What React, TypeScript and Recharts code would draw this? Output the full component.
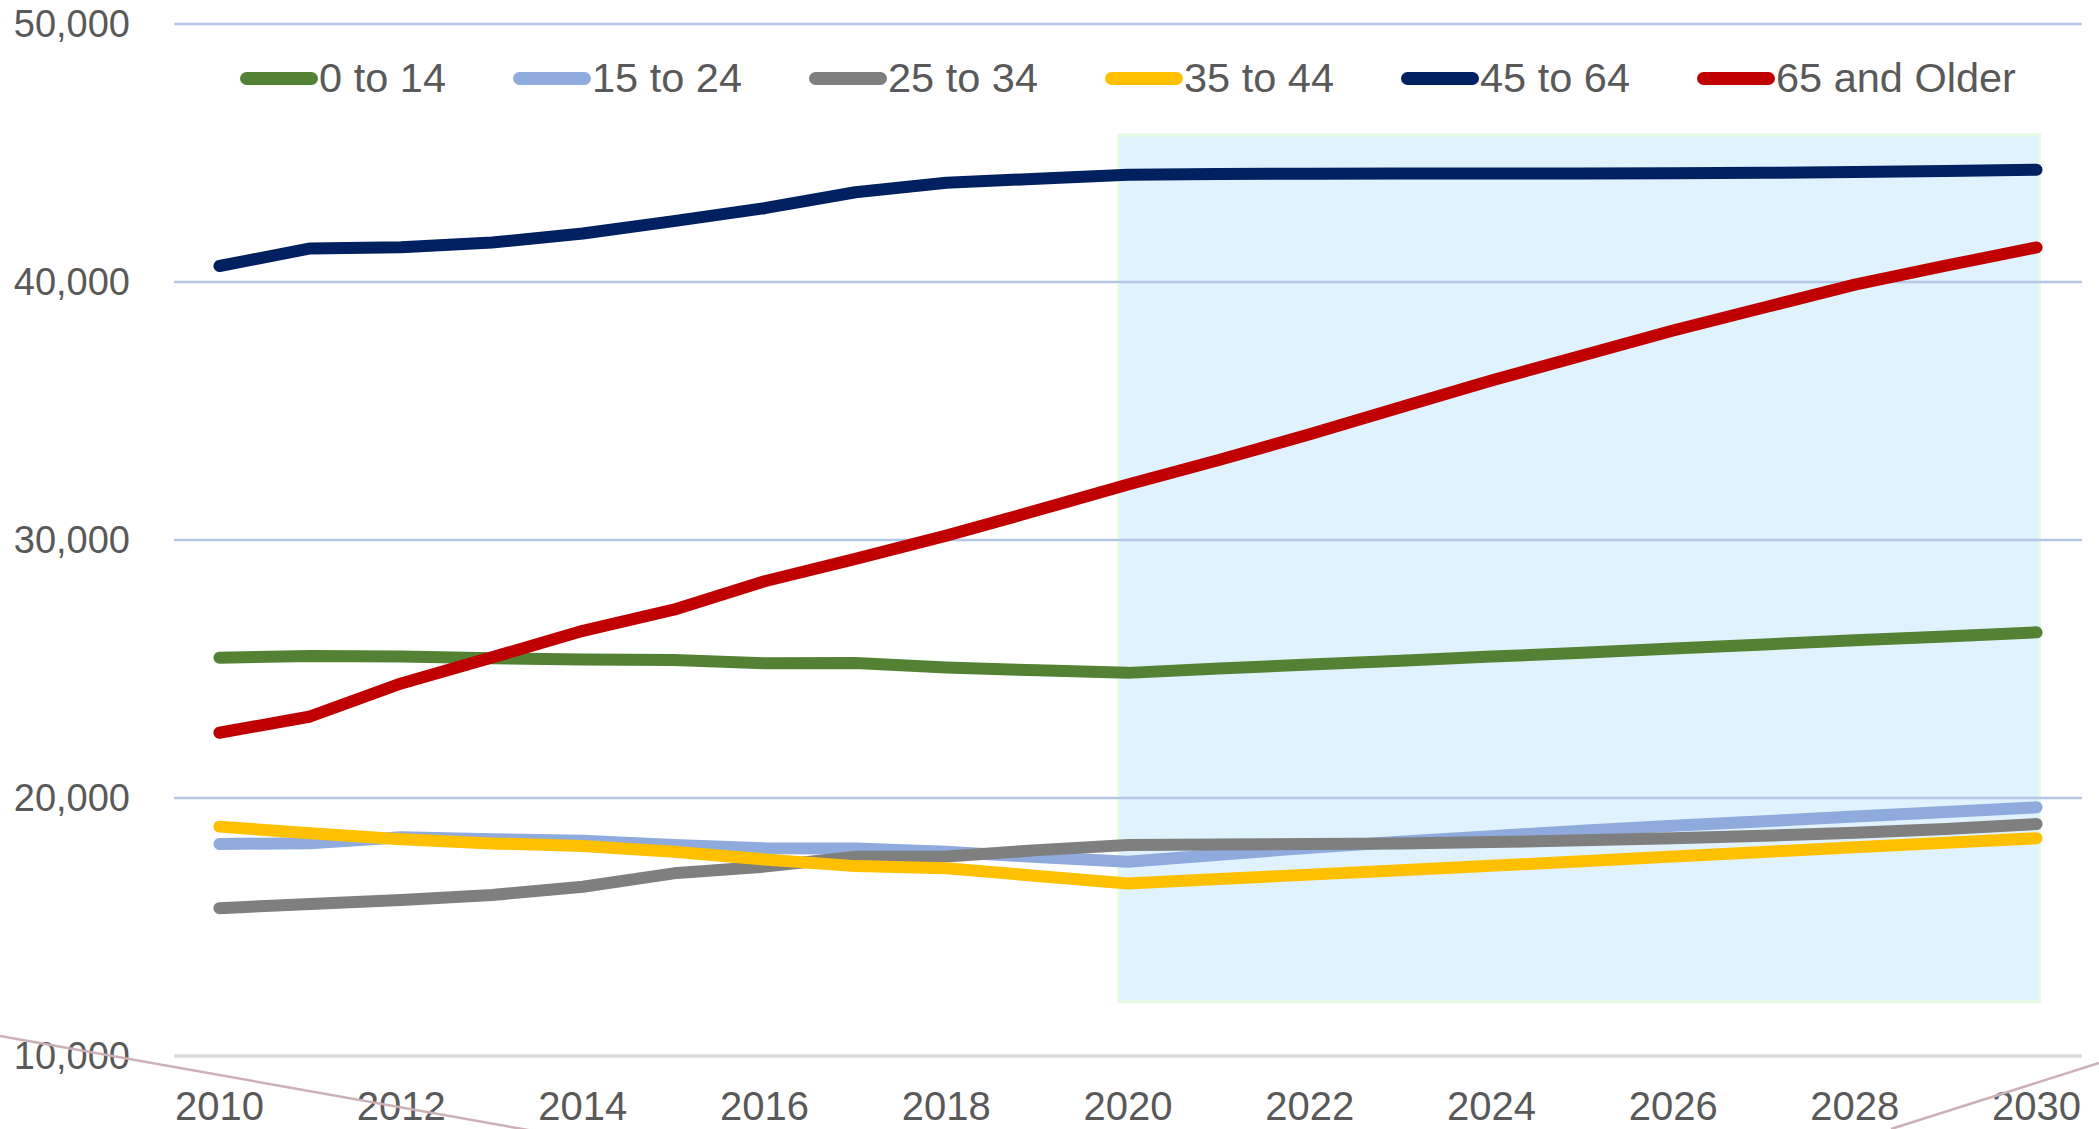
import { CartesianGrid, Line, LineChart, ReferenceArea, XAxis, YAxis } from 'recharts';

const years = [
  2010, 2011, 2012, 2013, 2014, 2015, 2016, 2017, 2018, 2019, 2020,
  2021, 2022, 2023, 2024, 2025, 2026, 2027, 2028, 2029, 2030,
];

const ages0to14 = [
  25440, 25500, 25480, 25420, 25370, 25350, 25220, 25230, 25060, 24950, 24850,
  25020, 25170, 25320, 25480, 25630, 25790, 25950, 26110, 26260, 26420,
];
const ages15to24 = [
  18220, 18250, 18480, 18400, 18340, 18180, 18050, 18040, 17920, 17710, 17530,
  17800, 18070, 18300, 18520, 18730, 18920, 19100, 19280, 19460, 19640,
];
const ages25to34 = [
  15730, 15890, 16050, 16240, 16560, 17080, 17340, 17720, 17730, 17980, 18180,
  18200, 18215, 18240, 18290, 18360, 18440, 18540, 18650, 18800, 18990,
];
const ages35to44 = [
  18890, 18630, 18400, 18240, 18140, 17920, 17620, 17360, 17280, 16980, 16690,
  16860, 17030, 17200, 17370, 17550, 17730, 17910, 18090, 18270, 18440,
];
const ages45to64 = [
  40620, 41300, 41350, 41530, 41880, 42360, 42860, 43480, 43850, 44000, 44160,
  44190, 44200, 44205, 44210, 44210, 44215, 44230, 44260, 44300, 44350,
];
const ages65plus = [
  22530, 23160, 24440, 25450, 26480, 27300, 28400, 29270, 30170, 31150, 32150,
  33100, 34100, 35150, 36180, 37150, 38120, 39010, 39900, 40630, 41340,
];

const yTicks = [10000, 20000, 30000, 40000, 50000];
const xTicks = [2010, 2012, 2014, 2016, 2018, 2020, 2022, 2024, 2026, 2028, 2030];

// projection window (shaded)
const projX = [2019.9, 2030.03];
const projY = [12100, 45700];

const series = [
  { key: 'a0', name: '0 to 14', color: '#548235', values: ages0to14 },
  { key: 'a15', name: '15 to 24', color: '#8FAADC', values: ages15to24 },
  { key: 'a25', name: '25 to 34', color: '#7F7F7F', values: ages25to34 },
  { key: 'a35', name: '35 to 44', color: '#FFC000', values: ages35to44 },
  { key: 'a45', name: '45 to 64', color: '#002060', values: ages45to64 },
  { key: 'a65', name: '65 and Older', color: '#C00000', values: ages65plus },
];

const data = years.map((year, i) => {
  const row: Record<string, number> = { year };
  series.forEach((s) => {
    row[s.key] = s.values[i];
  });
  return row;
});

const FONT = '"Liberation Sans", Arial, sans-serif';
const TEXT = '#595959';

const App = () => {
  return (
    <div style={{ position: 'absolute', left: 0, top: 0, width: 2099, height: 1129, background: '#fff', fontFamily: FONT }}>
      <LineChart width={2099} height={1129} data={data} margin={{ top: 24, right: 17, left: 0, bottom: 0 }}>
        <ReferenceArea
          x1={projX[0]}
          x2={projX[1]}
          y1={projY[0]}
          y2={projY[1]}
          fill="#E0F2FD"
          fillOpacity={1}
          stroke="#E3FBE3"
          strokeWidth={3}
          zIndex={-150}
        />
        <CartesianGrid vertical={false} stroke="#B4C7E7" strokeWidth={2.5} />
        <XAxis
          dataKey="year"
          type="number"
          domain={[2009.5, 2030.5]}
          ticks={xTicks}
          interval={0}
          height={73}
          tickLine={false}
          tickSize={0}
          tickMargin={36}
          axisLine={{ stroke: '#D9D9D9', strokeWidth: 3 }}
          tick={{ fill: TEXT, fontSize: 40, fontFamily: FONT }}
        />
        <YAxis
          width={174}
          domain={[10000, 50000]}
          ticks={yTicks}
          interval={0}
          axisLine={false}
          tickLine={false}
          tickSize={0}
          tickMargin={44}
          tickFormatter={(v: number) => v.toLocaleString('en-US')}
          tick={{ fill: TEXT, fontSize: 38, fontFamily: FONT }}
        />
        {series.map((s) => (
          <Line
            key={s.key}
            type="linear"
            dataKey={s.key}
            name={s.name}
            stroke={s.color}
            strokeWidth={12}
            strokeLinecap="round"
            strokeLinejoin="round"
            dot={false}
            activeDot={false}
            isAnimationActive={false}
          />
        ))}
      </LineChart>

      <div
        style={{
          position: 'absolute',
          left: 174,
          top: 56,
          width: 1908,
          height: 44,
          display: 'flex',
          justifyContent: 'center',
          alignItems: 'center',
          gap: 67,
        }}
      >
        {series.map((s) => (
          <div key={s.key} style={{ display: 'flex', alignItems: 'center' }}>
            <span style={{ display: 'inline-block', width: 78, height: 13, borderRadius: 7, background: s.color, marginRight: 1 }} />
            <span style={{ fontSize: 41.5, lineHeight: '44px', color: TEXT, whiteSpace: 'nowrap' }}>{s.name}</span>
          </div>
        ))}
      </div>

      <svg width={2099} height={1129} style={{ position: 'absolute', left: 0, top: 0, pointerEvents: 'none' }}>
        <line x1={0} y1={1036} x2={545} y2={1133} stroke="#CDB0B5" strokeWidth={2.5} />
        <line x1={1891} y1={1129} x2={2099} y2={1063} stroke="#CDB0B5" strokeWidth={2.5} />
      </svg>
    </div>
  );
};

export default App;
